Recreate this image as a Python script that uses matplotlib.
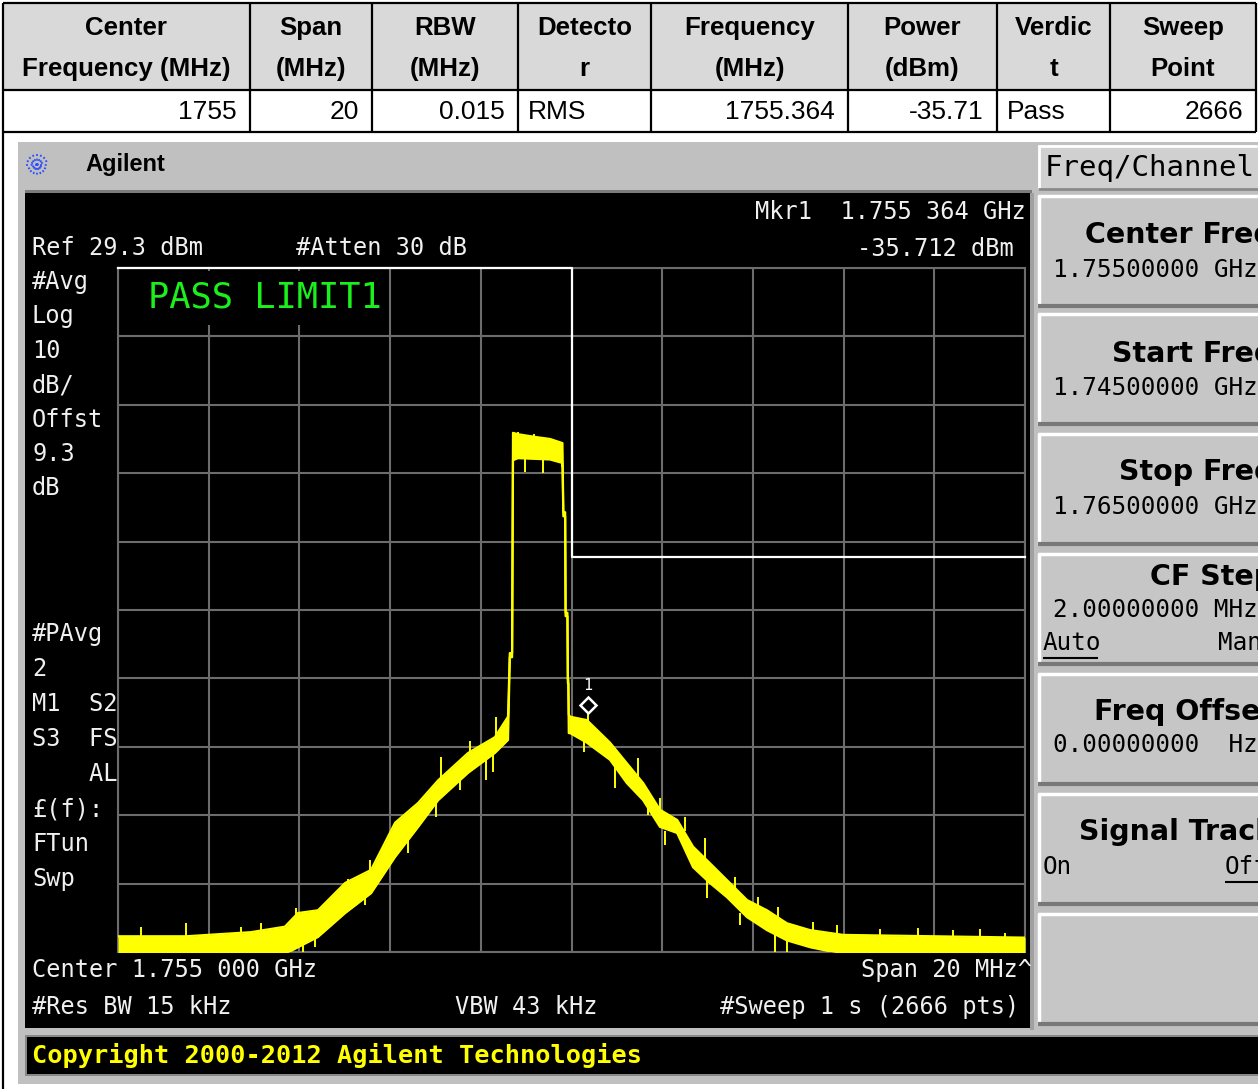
import numpy as np
import matplotlib
matplotlib.use("Agg")
import matplotlib.pyplot as plt
import matplotlib.transforms as mtransforms
from matplotlib.patches import Rectangle

W, H = 1258, 1089

# ---- result table ----
col_names = ["Center\nFrequency (MHz)", "Span\n(MHz)", "RBW\n(MHz)", "Detecto\nr",
             "Frequency\n(MHz)", "Power\n(dBm)", "Verdic\nt", "Sweep\nPoint"]
col_values = ["1755", "20", "0.015", "RMS", "1755.364", "-35.71", "Pass", "2666"]

# ---- analyzer settings ----
center_mhz = 1755.0
span_mhz = 20.0
ref_dbm = 29.3
db_per_div = 10

limit_freq = [1745.0, 1755.0, 1755.0, 1765.0]
limit_dbm = [29.3, 29.3, -13.0, -13.0]

mkr_freq = 1755.364
mkr_dbm = -35.712

# trace envelope (MHz, upper dBm, lower dBm)
trace_freq = [1745.00, 1746.50, 1747.93, 1748.68, 1748.97, 1749.41, 1750.01, 1750.58,
              1751.11, 1751.62, 1752.06, 1752.72, 1753.31, 1753.60, 1753.64, 1753.69,
              1753.71, 1753.82, 1754.20, 1754.53, 1754.80, 1754.82, 1754.86, 1754.87,
              1754.91, 1754.92, 1754.93, 1754.94, 1754.97, 1755.34, 1755.85, 1756.22,
              1756.58, 1756.95, 1757.33, 1757.68, 1758.05, 1758.43, 1758.87, 1759.31,
              1759.75, 1760.26, 1760.99, 1765.00]
trace_hi = [-68.4, -68.4, -67.8, -67.0, -65.0, -64.6, -60.6, -58.7,
            -51.8, -48.9, -45.6, -41.6, -39.3, -36.3, -27.0, -27.0,
            5.2, 5.0, 4.6, 4.3, 3.7, -6.4, -6.4, -21.1,
            -21.1, -30.9, -30.9, -36.0, -36.3, -36.8, -40.1, -43.1,
            -46.0, -49.9, -51.4, -55.3, -57.7, -60.2, -63.1, -64.6,
            -66.5, -67.5, -68.2, -68.6]
trace_lo = [-71.0, -71.0, -71.0, -71.0, -70.0, -68.5, -65.0, -62.1,
            -56.8, -52.4, -48.5, -44.5, -41.6, -39.7, -27.6, -27.6,
            1.2, 1.5, 1.4, 1.3, 0.8, -7.0, -7.0, -21.6,
            -21.6, -31.4, -31.4, -38.7, -38.7, -40.1, -42.6, -46.0,
            -48.5, -52.4, -53.3, -58.3, -60.6, -62.7, -65.6, -67.5,
            -69.0, -70.0, -71.0, -71.0]

# single noise spikes (MHz, top dBm, bottom dBm)
spike_freq = [1745.50, 1746.50, 1747.71, 1748.15, 1748.93, 1750.07, 1750.56, 1750.84,
              1751.66, 1752.12, 1752.76, 1753.33, 1753.82, 1754.17, 1755.36, 1756.47,
              1756.95, 1757.50, 1757.94, 1758.60, 1759.11, 1759.55, 1760.32, 1760.85,
              1761.80, 1762.64, 1763.41, 1764.00, 1764.56,
              1749.08, 1749.34, 1750.45, 1751.39, 1752.01, 1752.54, 1753.11, 1753.27,
              1753.97, 1754.37, 1754.79, 1755.27, 1755.97, 1756.69, 1757.07, 1757.99,
              1758.71, 1759.49, 1759.75]
spike_top = [-67.0, -66.5, -67.1, -66.5, -64.2, -60.1, -57.2, -55.3,
             -48.9, -42.2, -39.9, -36.3, 5.3, 5.0, -35.7, -42.3,
             -48.2, -51.0, -54.0, -59.7, -62.7, -64.1, -66.3, -66.8,
             -67.3, -67.2, -67.5, -67.4, -67.9,
             -67.0, -66.0, -61.0, -52.0, -47.0, -44.0, -41.0, -40.0,
             2.0, 2.0, 2.0, -39.0, -43.0, -48.0, -53.0, -60.0,
             -65.0, -68.0, -68.5]
spike_bot = [-69.0, -69.0, -69.0, -69.0, -67.0, -62.0, -60.0, -58.0,
             -50.0, -46.0, -42.0, -39.5, 3.0, 3.0, -38.0, -45.0,
             -50.0, -53.0, -57.0, -62.0, -65.0, -66.0, -68.0, -68.5,
             -69.0, -69.0, -69.0, -69.0, -69.5,
             -71.0, -70.0, -63.8, -56.2, -50.9, -47.0, -45.6, -44.4,
             -0.5, -0.7, 0.2, -41.5, -46.7, -50.7, -55.1, -62.8,
             -66.8, -71.0, -71.0]

key_labels = ["Center Freq", "Start Freq", "Stop Freq", "CF Step", "Freq Offset", "Signal Track", ""]
key_values = ["1.75500000 GHz", "1.74500000 GHz", "1.76500000 GHz", "2.00000000 MHz",
              "0.00000000  Hz", "", ""]

MONO = "DejaVu Sans Mono"
SANS = "Liberation Sans"

fig = plt.figure(figsize=(W / 100, H / 100), dpi=100)
bg = fig.add_axes([0, 0, 1, 1])
bg.set_xlim(0, W)
bg.set_ylim(H, 0)
bg.axis("off")


def box(x0, y0, x1, y1, fc, z=1, axes=None):
    a = axes if axes is not None else bg
    a.add_patch(Rectangle((x0, y0), x1 - x0, y1 - y0, facecolor=fc, edgecolor="none",
                          zorder=z, transform=bg.transData))


def hline(x0, x1, y, c, lw=1.5, z=2):
    bg.plot([x0, x1], [y, y], color=c, lw=lw, zorder=z, solid_capstyle="butt")


def vline(x, y0, y1, c, lw=1.5, z=2):
    bg.plot([x, x], [y0, y1], color=c, lw=lw, zorder=z, solid_capstyle="butt")


# ---- table ----
edges = [3, 250, 372, 518, 651, 848, 997, 1110, 1256]
box(3, 3, 1256, 90, "#d9d9d9")
for i, (name, val) in enumerate(zip(col_names, col_values)):
    xl, xr = edges[i], edges[i + 1]
    l1, l2 = name.split("\n")
    bg.text((xl + xr) / 2, 28, l1, ha="center", va="center", fontsize=18.6, family=SANS,
            fontweight="bold", zorder=3)
    bg.text((xl + xr) / 2, 69, l2, ha="center", va="center", fontsize=18.6, family=SANS,
            fontweight="bold", zorder=3)
    if val in ("RMS", "Pass"):
        bg.text(xl + 10, 112, val, ha="left", va="center", fontsize=19, family=SANS, zorder=3)
    else:
        bg.text(xr - 13, 112, val, ha="right", va="center", fontsize=19, family=SANS, zorder=3)
for x in edges:
    vline(x, 3, 132, "black", lw=1.6)
for y in (3, 90, 132):
    hline(3, 1256, y, "black", lw=1.6)
vline(3, 132, H, "black", lw=1.6)

# ---- analyzer screenshot frame ----
box(18, 142, W, 1084, "#c0c0c0")
box(25, 190, 1032, 193, "#7c7c7c", z=1.2)
box(25, 193, 1032, 1028, "black", z=1.2)
box(1030, 193, 1034, 1030, "#a0a0a0", z=1.2)
box(25, 1035, W, 1076, "#888888", z=1.2)
box(27, 1037, W, 1074, "black", z=1.3)
bg.text(85, 165, "Agilent", fontsize=17, family=SANS, fontweight="bold", va="center", zorder=3)
# logo
for ang in np.arange(0, 180, 22.5):
    dx, dy = 11 * np.cos(np.radians(ang)), 11 * np.sin(np.radians(ang))
    bg.plot([37 - dx, 37 + dx], [165 - dy, 165 + dy], color="#2a4cff", lw=1.2,
            ls=(0, (1.2, 1.6)), zorder=3)

# right soft key panel
box(1038, 145, W, 190, "#d0d0d0", z=1.2)
vline(1039, 145, 190, "white", lw=2, z=1.3)
hline(1038, W, 146, "white", lw=2, z=1.3)
hline(1038, W, 189, "#8a8a8a", lw=2, z=1.3)
bg.text(1045, 168, "Freq/Channel", fontsize=21, family=MONO, va="center", zorder=3)
key_tops = [195, 313, 433, 553, 673, 793, 913]
label_dy = [40, 41, 39, 24, 39, 39, 39]
value_dy = [75, 75, 74, 57, 72, 72, 72]
for top, lab, val, ldy, vdy in zip(key_tops, key_labels, key_values, label_dy, value_dy):
    bot = top + 112
    box(1038, top, W, bot, "#c6c6c6", z=1.2)
    hline(1038, W, top + 1, "white", lw=2.5, z=1.3)
    vline(1039, top, bot, "white", lw=2.5, z=1.3)
    hline(1038, W, bot - 1, "#787878", lw=3, z=1.3)
    if lab:
        bg.text(1274, top + ldy, lab, ha="right", va="center", fontsize=20.5, family="DejaVu Sans",
                fontweight="bold", zorder=3)
    if val:
        bg.text(1053, top + vdy, val, ha="left", va="center", fontsize=17.5, family=MONO, zorder=3)
bg.text(1043, 643, "Auto", fontsize=17.5, family=MONO, va="center", zorder=3)
hline(1043, 1098, 658, "black", lw=1.5, z=3)
bg.text(1218, 643, "Man", fontsize=17.5, family=MONO, va="center", zorder=3)
bg.text(1043, 867, "On", fontsize=17.5, family=MONO, va="center", zorder=3)
bg.text(1225, 867, "Off", fontsize=17.5, family=MONO, va="center", zorder=3)
hline(1225, W, 882, "black", lw=1.5, z=3)

# ---- screen annotations ----
WH = "#f0f0f0"
screen_text = [
    (32, 248, "Ref 29.3 dBm", "left"),
    (296, 248, "#Atten 30 dB", "left"),
    (1026, 212, "Mkr1  1.755 364 GHz", "right"),
    (1014, 249, "-35.712 dBm", "right"),
    (32, 970, "Center 1.755 000 GHz", "left"),
    (1032, 970, "Span 20 MHz^", "right"),
    (32, 1007, "#Res BW 15 kHz", "left"),
    (455, 1007, "VBW 43 kHz", "left"),
    (720, 1007, "#Sweep 1 s (2666 pts)", "left"),
]
for x, y, s, ha in screen_text:
    bg.text(x, y, s, ha=ha, va="center", fontsize=17, family=MONO, color=WH, zorder=3)
left_labels = ["#Avg", "Log", "10", "dB/", "Offst", "9.3", "dB"]
for i, s in enumerate(left_labels):
    bg.text(32, 282 + i * 34.4, s, va="center", fontsize=17, family=MONO, color=WH, zorder=3)
left_labels2 = ["#PAvg", "2", "M1  S2", "S3  FS", "    AL", "£(f):", "FTun", "Swp"]
for i, s in enumerate(left_labels2):
    bg.text(32, 634 + i * 35.0, s, va="center", fontsize=17, family=MONO, color=WH, zorder=3)
bg.text(32, 1055, "Copyright 2000-2012 Agilent Technologies", va="center", fontsize=18.2,
        family=MONO, fontweight="bold", color="#ffff00", zorder=3)

# ---- trace display ----
f_start = center_mhz - span_mhz / 2
f_stop = center_mhz + span_mhz / 2
bottom = ref_dbm - 10 * db_per_div
ax = fig.add_axes([118 / W, 1 - 952 / H, 907 / W, 684 / H])
ax.set_facecolor("none")
ax.set_xlim(f_start, f_stop)
ax.set_ylim(bottom, ref_dbm)
ax.set_xticks(np.linspace(f_start, f_stop, 11))
ax.set_yticks(np.linspace(bottom, ref_dbm, 11))
ax.grid(True, color="#6c6c6c", lw=1.5)
ax.tick_params(length=0, labelbottom=False, labelleft=False)
for s in ax.spines.values():
    s.set_color("#6c6c6c")
    s.set_linewidth(1.5)

# black patch behind the pass text
box(121, 271, 388, 325, "black", z=2, axes=ax)
ax.text(148, 298, "PASS LIMIT1", transform=bg.transData, fontsize=25.5, family=MONO,
        color="#1cf01c", va="center", zorder=4)

yel = "#ffff00"
ax.fill_between(trace_freq, trace_lo, trace_hi, color=yel, lw=0, zorder=3)
ax.plot(trace_freq, trace_hi, color=yel, lw=1.6, zorder=3)
ax.plot(trace_freq, trace_lo, color=yel, lw=1.6, zorder=3)
ax.vlines(spike_freq, spike_bot, spike_top, color=yel, lw=1.4, zorder=3)

ax.plot(limit_freq, limit_dbm, color="white", lw=1.6, zorder=3.5, clip_on=False)

off = mtransforms.offset_copy(ax.transData, fig=fig, x=0, y=8, units="dots")
ax.plot([mkr_freq], [mkr_dbm], marker="D", ms=8.5, mfc="black", mec="white", mew=1.8,
        transform=off, zorder=5)
off2 = mtransforms.offset_copy(ax.transData, fig=fig, x=0, y=27, units="dots")
ax.text(mkr_freq, mkr_dbm, "1", transform=off2, ha="center", va="center", fontsize=11,
        family=MONO, color="white", zorder=5)

fig.savefig("out.png", dpi=100, facecolor="white")
